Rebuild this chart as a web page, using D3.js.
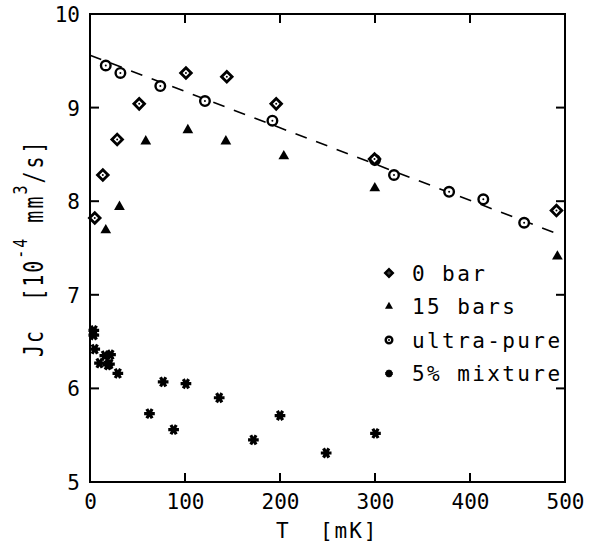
<!DOCTYPE html>
<html>
<head>
<meta charset="utf-8">
<script src="https://cdn.jsdelivr.net/npm/d3@7"></script>
<style>
  body { margin: 0; background: #fff; }
  svg text { font-family: "DejaVu Sans Mono", "Liberation Mono", monospace; fill: #000; }
</style>
</head>
<body>
<div id="chart"></div>
<script>
// T [mK] and Jc [1e-4 mm^3/s]
const zeroBarT = [5, 13.5, 28.6, 51.8, 101, 144, 196, 299.5, 491];
const zeroBarJ = [7.82, 8.28, 8.66, 9.04, 9.37, 9.33, 9.04, 8.45, 7.9];

const fifteenBarT = [16.6, 31, 58.7, 103, 143, 204, 299.8, 492];
const fifteenBarJ = [7.69, 7.94, 8.64, 8.76, 8.64, 8.48, 8.14, 7.41];

const ultraPureT = [16.6, 32, 74, 121, 192, 300, 320, 378, 414, 457];
const ultraPureJ = [9.45, 9.37, 9.23, 9.07, 8.86, 8.44, 8.28, 8.1, 8.02, 7.77];

const mixtureT = [4, 4, 5, 10, 15.6, 18.7, 21.6, 20.5, 29.3, 62.6, 77, 88, 101, 136, 172, 200, 248.6, 300.5];
const mixtureJ = [6.62, 6.57, 6.42, 6.27, 6.35, 6.25, 6.36, 6.26, 6.16, 5.73, 6.07, 5.56, 6.05, 5.9, 5.45, 5.71, 5.31, 5.52];

// dashed linear fit through the ultra-pure points
const fitT = [0, 490];
const fitJ = [9.56, 7.66];

const xTicks = [0, 100, 200, 300, 400, 500];
const yTicks = [5, 6, 7, 8, 9, 10];
const legendLabels = ['0 bar', '15 bars', 'ultra-pure', '5% mixture'];

const width = 593;
const height = 548;
const margin = { top: 14, right: 28, bottom: 66, left: 90 };
const w = width - margin.left - margin.right;
const h = height - margin.top - margin.bottom;

const svg = d3.select('#chart')
  .append('svg')
  .attr('width', width)
  .attr('height', height);

const g = svg.append('g')
  .attr('transform', `translate(${margin.left},${margin.top})`);

const x = d3.scaleLinear().domain([0, 500]).range([0, w]);
const y = d3.scaleLinear().domain([5, 10]).range([h, 0]);

// inward ticks on all four sides, labels only bottom/left
const tickLen = 9;
const inner = xTicks.slice(1, -1);
const innerY = yTicks.slice(1, -1);

g.append('g')
  .attr('transform', `translate(0,${h})`)
  .call(d3.axisBottom(x).tickValues(xTicks).tickFormat(d3.format('d')).tickSize(0).tickPadding(12))
  .call(a => a.select('.domain').remove())
  .selectAll('text')
  .attr('font-size', 21)
  .attr('dy', '0.72em');

g.append('g')
  .call(d3.axisLeft(y).tickValues(yTicks).tickFormat(d3.format('d')).tickSize(0).tickPadding(10))
  .call(a => a.select('.domain').remove())
  .selectAll('text')
  .attr('font-size', 21)
  .attr('dy', '0.36em');

const tickG = g.append('g').attr('stroke', '#000').attr('stroke-width', 2);
inner.forEach(t => {
  tickG.append('line').attr('x1', x(t)).attr('x2', x(t)).attr('y1', h).attr('y2', h - tickLen);
  tickG.append('line').attr('x1', x(t)).attr('x2', x(t)).attr('y1', 0).attr('y2', tickLen);
});
innerY.forEach(t => {
  tickG.append('line').attr('x1', 0).attr('x2', tickLen).attr('y1', y(t)).attr('y2', y(t));
  tickG.append('line').attr('x1', w).attr('x2', w - tickLen).attr('y1', y(t)).attr('y2', y(t));
});

g.append('rect')
  .attr('width', w)
  .attr('height', h)
  .attr('fill', 'none')
  .attr('stroke', '#000')
  .attr('stroke-width', 2);

// fit line
g.append('line')
  .attr('x1', x(fitT[0])).attr('y1', y(fitJ[0]))
  .attr('x2', x(fitT[1])).attr('y2', y(fitJ[1]))
  .attr('stroke', '#000')
  .attr('stroke-width', 1.6)
  .attr('stroke-dasharray', '12,10');

// marker drawers
const drawDiamond = (sel, s) => {
  sel.append('path')
    .attr('d', d3.symbol().type(d3.symbolSquare).size(s * s)())
    .attr('transform', 'rotate(45)')
    .attr('fill', '#fff').attr('stroke', '#000').attr('stroke-width', 2.8);
  sel.append('circle').attr('r', 1).attr('fill', '#000');
};
const drawCircle = (sel, r) => {
  sel.append('circle').attr('r', r)
    .attr('fill', '#fff').attr('stroke', '#000').attr('stroke-width', 2.4);
  sel.append('circle').attr('r', 1).attr('fill', '#000');
};
const drawTriangle = (sel, s) => {
  sel.append('path')
    .attr('d', d3.symbol().type(d3.symbolTriangle).size(s)())
    .attr('fill', '#000');
};
const drawStar = (sel, s) => {
  sel.append('path')
    .attr('d', d3.symbol().type(d3.symbolAsterisk).size(s)())
    .attr('transform', 'rotate(90)')
    .attr('fill', 'none').attr('stroke', '#000').attr('stroke-width', 3.2);
  sel.append('circle').attr('r', 2.6).attr('fill', '#000');
};

const plotSeries = (ts, js, draw, arg) => {
  g.append('g')
    .selectAll('g')
    .data(ts.map((t, i) => ({ t, j: js[i] })))
    .join('g')
    .attr('transform', d => `translate(${x(d.t)},${y(d.j)})`)
    .each(function (d) { draw(d3.select(this), arg); });
};

plotSeries(mixtureT, mixtureJ, drawStar, 80);
plotSeries(fifteenBarT, fifteenBarJ, drawTriangle, 50);
plotSeries(ultraPureT, ultraPureJ, drawCircle, 4.8);
plotSeries(zeroBarT, zeroBarJ, drawDiamond, 7.5);

// legend
const legendDraw = [
  s => drawDiamond(s, 5),
  s => drawTriangle(s, 28),
  s => drawCircle(s, 3.3),
  s => drawStar(s, 40),
];
const legend = svg.append('g');
legendLabels.forEach((label, i) => {
  const cy = 273 + i * 33.5;
  const m = legend.append('g').attr('transform', `translate(389,${cy})`);
  legendDraw[i](m);
  legend.append('text')
    .attr('x', 412)
    .attr('y', cy + 7.5)
    .attr('font-size', 21)
    .attr('letter-spacing', 2.4)
    .text(label);
});

// axis titles
svg.append('text')
  .attr('x', 276)
  .attr('y', 538)
  .attr('font-size', 21)
  .attr('letter-spacing', 2)
  .attr('xml:space', 'preserve')
  .text('T  [mK]');

const yl = svg.append('text')
  .attr('transform', 'translate(43,357) rotate(-90) scale(1,1.35)')
  .attr('font-size', 20)
  .attr('letter-spacing', 2)
  .attr('xml:space', 'preserve');
yl.append('tspan').text('Jc  [10');
yl.append('tspan').attr('dy', -12).attr('font-size', 15).text('-4');
yl.append('tspan').attr('dy', 12).text(' mm');
yl.append('tspan').attr('dy', -12).attr('font-size', 15).text('3');
yl.append('tspan').attr('dy', 12).attr('letter-spacing', 3).text('/s]');
</script>
</body>
</html>
